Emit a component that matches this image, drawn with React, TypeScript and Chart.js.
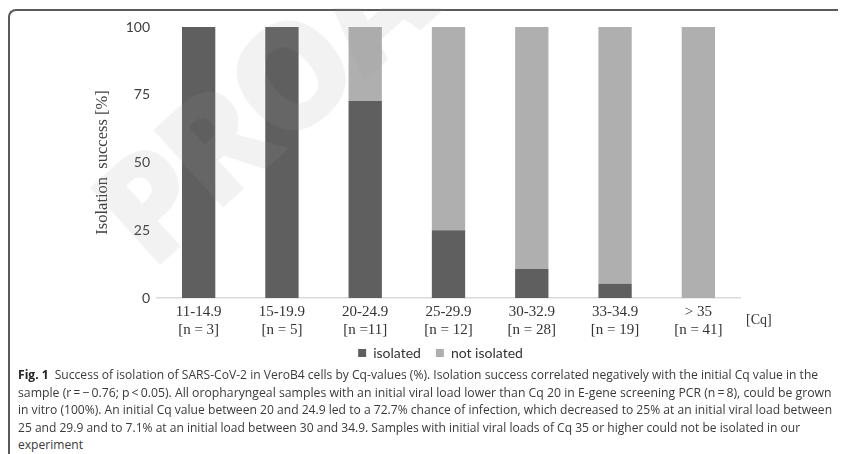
import React, { useEffect, useRef } from 'react';
import { Chart, registerables } from 'chart.js';

Chart.register(...registerables);

const categoryRanges = ['11-14.9', '15-19.9', '20-24.9', '25-29.9', '30-32.9', '33-34.9', '> 35'];
const categoryCounts = ['[n = 3]', '[n = 5]', '[n =11]', '[n = 12]', '[n = 28]', '[n = 19]', '[n = 41]'];
const isolatedValues = [100, 100, 72.7, 25, 10.7, 5.3, 0];
const notIsolatedValues = [0, 0, 27.3, 75, 89.3, 94.7, 100];
const seriesNames = ['isolated', 'not isolated'];
const yTickValues = [0, 25, 50, 75, 100];
const yAxisTitle = 'Isolation  success [%]';
const xAxisUnit = '[Cq]';
const watermarkText = 'PROA';

const captionLines = [
  'Success of isolation of SARS-CoV-2 in VeroB4 cells by Cq-values (%). Isolation success correlated negatively with the initial Cq value in the',
  'sample (r\u2009=\u2009\u2212\u20090.76; p\u2009<\u20090.05). All oropharyngeal samples with an initial viral load lower than Cq 20 in E-gene screening PCR (n\u2009=\u20098), could be grown',
  'in vitro (100%). An initial Cq value between 20 and 24.9 led to a 72.7% chance of infection, which decreased to 25% at an initial viral load between',
  '25 and 29.9 and to 7.1% at an initial load between 30 and 34.9. Samples with initial viral loads of Cq 35 or higher could not be isolated in our',
  'experiment',
];
const captionLabel = 'Fig. 1';
const captionTargetWidths = [800, 814, 814, 782, 0];

const DARK = '#5f5f5f';
const LIGHT = '#afafaf';

export default function App() {
  const canvasRef = useRef<HTMLCanvasElement | null>(null);
  const lineRefs = useRef<(HTMLSpanElement | null)[]>([]);

  useEffect(() => {
    const canvas = canvasRef.current;
    if (!canvas) return;
    const unitPlugin = {
      id: 'unitLabel',
      afterLayout(chart: any) {
        const lg = chart.legend;
        if (lg) {
          lg.left -= 8;
          lg.right -= 8;
          lg.top -= 9;
          lg.bottom -= 9;
        }
      },
      afterDraw(chart: any) {
        const ctx = chart.ctx;
        const xs = chart.scales.x;
        ctx.save();
        ctx.font = '14px "Liberation Serif"';
        ctx.fillStyle = '#333333';
        ctx.textAlign = 'left';
        ctx.textBaseline = 'middle';
        ctx.fillText(xAxisUnit, chart.chartArea.right + 6, xs.top + 22);
        ctx.restore();
      },
    };
    const chart = new Chart(canvas, {
      type: 'bar',
      data: {
        labels: categoryRanges.map((r, i) => [r, categoryCounts[i]]),
        datasets: [
          {
            label: seriesNames[0],
            data: isolatedValues,
            backgroundColor: DARK,
            borderWidth: 0,
            barPercentage: 0.4,
            categoryPercentage: 1,
          },
          {
            label: seriesNames[1],
            data: notIsolatedValues,
            backgroundColor: LIGHT,
            borderWidth: 0,
            barPercentage: 0.4,
            categoryPercentage: 1,
          },
        ],
      },
      options: {
        responsive: false,
        animation: false,
        layout: { padding: { left: 0, right: 106, top: 19, bottom: 4 } },
        scales: {
          x: {
            stacked: true,
            grid: { display: false, drawTicks: false },
            border: { display: true, color: '#d9d9d9', width: 1.5 },
            ticks: {
              autoSkip: false,
              maxRotation: 0,
              padding: 5,
              color: '#333333',
              font: { family: '"Liberation Serif"', size: 15, lineHeight: 1.2 },
            },
            afterFit: (s: any) => {
              s.height = 42;
            },
          },
          y: {
            stacked: true,
            min: 0,
            max: 100,
            afterBuildTicks: (s: any) => {
              s.ticks = yTickValues.map((v) => ({ value: v }));
            },
            grid: { display: false, drawTicks: false },
            border: { display: false },
            ticks: {
              padding: 7,
              color: '#404040',
              font: { family: 'Lato', size: 14 },
            },
            title: {
              display: true,
              text: yAxisTitle,
              color: '#404040',
              font: { family: '"Liberation Serif"', size: 16.5 },
              padding: { top: 85, bottom: 0 },
            },
            afterFit: (s: any) => {
              s.width = 149;
            },
          },
        },
        plugins: {
          legend: {
            position: 'bottom',
            fullSize: false,
            labels: {
              boxWidth: 8,
              boxHeight: 8,
              padding: 15,
              color: '#333333',
              font: { family: 'Lato', size: 14 },
            },
          },
          tooltip: { enabled: false },
        },
      },
      plugins: [unitPlugin],
    });

    const lines = lineRefs.current;
    const firstScale = lines[0] ? captionTargetWidths[0] / lines[0].offsetWidth : 1;
    lines.forEach((el, i) => {
      if (!el) return;
      const target = captionTargetWidths[i] || 0;
      const s = target > 0 ? target / el.offsetWidth : firstScale;
      el.style.transform = `scaleX(${s})`;
    });

    return () => chart.destroy();
  }, []);

  return (
    <div style={{ position: 'relative', width: 838, height: 446, overflow: 'hidden', background: '#ffffff' }}>
      <div
        style={{
          position: 'absolute',
          left: 0,
          top: 1,
          width: 860,
          height: 480,
          borderTop: '2px solid #5a5a5a',
          borderLeft: '2px solid #5a5a5a',
          borderTopLeftRadius: 8,
          boxSizing: 'border-box',
        }}
      />
      <canvas
        ref={canvasRef}
        width={838}
        height={375}
        style={{ position: 'absolute', left: 0, top: 0, width: 838, height: 375 }}
      />
      <div
        style={{
          position: 'absolute',
          left: 154,
          top: 131,
          fontFamily: '"Open Sans"',
          fontWeight: 800,
          fontSize: 145,
          lineHeight: 1,
          letterSpacing: -6,
          color: 'rgba(150,150,150,0.12)',
          transform: 'rotate(-42deg)',
          transformOrigin: '0 100%',
          whiteSpace: 'nowrap',
          pointerEvents: 'none',
        }}
      >
        {watermarkText}
      </div>
      {captionLines.map((line, i) => (
        <span
          key={i}
          ref={(el) => {
            lineRefs.current[i] = el;
          }}
          style={{
            position: 'absolute',
            left: 10,
            top: 358 + i * 17.6,
            fontFamily: '"Open Sans"',
            fontSize: 12.5,
            lineHeight: '17.6px',
            color: '#3a3a3a',
            whiteSpace: 'nowrap',
            display: 'inline-block',
            transformOrigin: '0 50%',
          }}
        >
          {i === 0 ? (
            <>
              <b style={{ color: '#222' }}>{captionLabel}</b>
              {'\u2002' + line}
            </>
          ) : (
            line
          )}
        </span>
      ))}
    </div>
  );
}
